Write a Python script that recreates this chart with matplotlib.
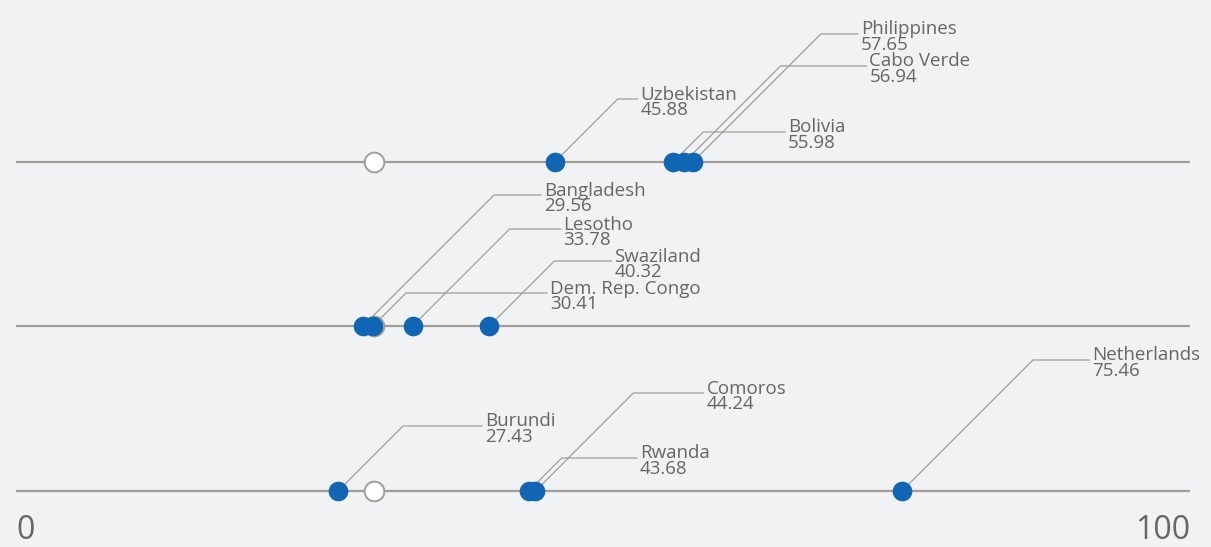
import matplotlib.pyplot as plt

# rows of countries (top to bottom) and their scores
row_names = [
    ["Uzbekistan", "Bolivia", "Cabo Verde", "Philippines"],
    ["Bangladesh", "Dem. Rep. Congo", "Lesotho", "Swaziland"],
    ["Burundi", "Rwanda", "Comoros", "Netherlands"],
]
row_values = [
    [45.88, 55.98, 56.94, 57.65],
    [29.56, 30.41, 33.78, 40.32],
    [27.43, 43.68, 44.24, 75.46],
]
reference = 30.5
axis_labels = ["0", "100"]

# label layout (pixels): rise of the leader above the row, length of the flat part
rises = [[63, 30, 96, 128], [131, 33, 97, 65], [65, 33, 98, 131]]
flats = [[20, 82, 86, 37], [47, 141, 51, 57], [79, 75, 70, 56]]
row_y = [162, 326, 491]

W, H = 1211, 547
px0, px100 = 16, 1190
scale = (px100 - px0) / 100.0

bg = "#f1f2f4"
dot_col = "#1166b3"
line_col = "#a49d97"
text_col = "#666666"

plt.rcParams['font.family'] = ['Open Sans', 'DejaVu Sans']

fig = plt.figure(figsize=(W / 100, H / 100), dpi=100)
fig.patch.set_facecolor(bg)
ax = fig.add_axes([0, 0, 1, 1])
ax.set_facecolor(bg)
ax.set_xlim(-px0 / scale, (W - px0) / scale)
ax.set_ylim(H, 0)
ax.axis('off')

for r, (names, vals) in enumerate(zip(row_names, row_values)):
    y0 = row_y[r]
    ax.plot([0, 100], [y0, y0], color=line_col, lw=1.6, zorder=1, solid_capstyle='butt')
    ax.scatter([reference], [y0], s=200, facecolor='white', edgecolor=line_col, lw=1.4, zorder=3)
    for i, (n, v) in enumerate(zip(names, vals)):
        rise = rises[r][i]
        flat = flats[r][i]
        ex = v + rise / scale
        ey = y0 - rise
        fx = ex + flat / scale
        ax.plot([v, ex, fx], [y0, ey, ey], color=line_col, lw=0.9, zorder=2)
        tx = fx + 3 / scale
        # name on the leader, value just underneath
        ax.text(tx, ey + 0.5, n, color=text_col, fontsize=13.5, ha='left', va='baseline')
        ax.text(tx, ey + 16, f"{v:.2f}", color=text_col, fontsize=13.5, ha='left', va='baseline')
    ax.scatter(vals, [y0] * len(vals), s=200, color=dot_col, lw=0, zorder=4)

ax.text(0, 547, axis_labels[0], color=text_col, fontsize=23, ha='left', va='bottom')
ax.text(100, 547, axis_labels[1], color=text_col, fontsize=23, ha='right', va='bottom')

fig.savefig("out.png", dpi=100, facecolor=bg)
